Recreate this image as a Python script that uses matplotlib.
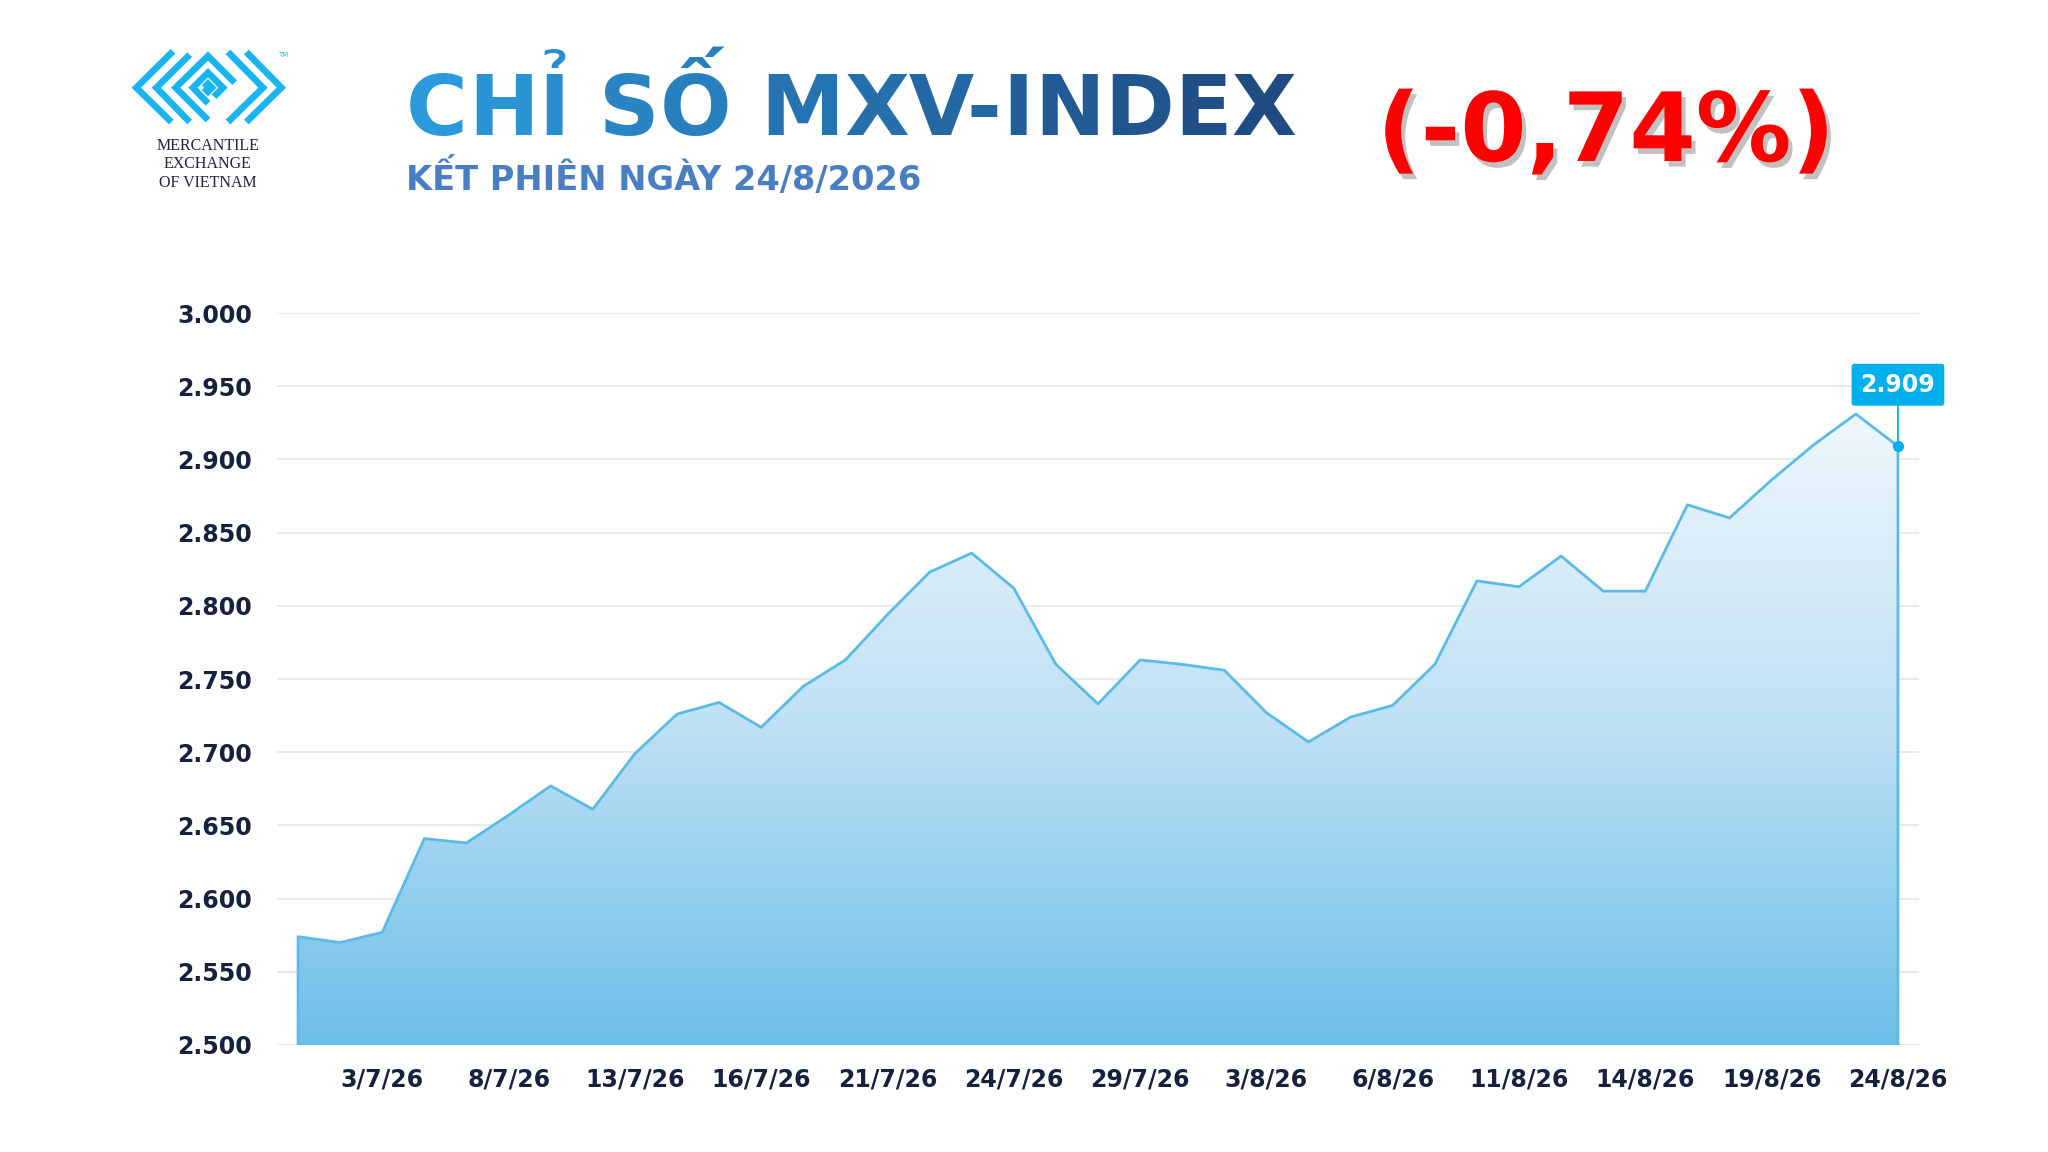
import matplotlib
matplotlib.use('Agg')
import matplotlib.pyplot as plt
import matplotlib.colors as mcolors
import matplotlib.patheffects as pe
import numpy as np

# phien giao dich 1/7/2026 -> 24/8/2026
dates = ['1/7/26', '2/7/26', '3/7/26', '6/7/26', '7/7/26', '8/7/26', '9/7/26', '10/7/26',
         '13/7/26', '14/7/26', '15/7/26', '16/7/26', '17/7/26', '20/7/26', '21/7/26',
         '22/7/26', '23/7/26', '24/7/26', '27/7/26', '28/7/26', '29/7/26', '30/7/26',
         '31/7/26', '3/8/26', '4/8/26', '5/8/26', '6/8/26', '7/8/26', '10/8/26', '11/8/26',
         '12/8/26', '13/8/26', '14/8/26', '17/8/26', '18/8/26', '19/8/26', '20/8/26',
         '21/8/26', '24/8/26']
mxv = [2574, 2570, 2577, 2641, 2638, 2657, 2677, 2661, 2699, 2726, 2734, 2717, 2745,
       2763, 2794, 2823, 2836, 2812, 2760, 2733, 2763, 2760, 2756, 2727, 2707, 2724,
       2732, 2760, 2817, 2813, 2834, 2810, 2810, 2869, 2860, 2886, 2910, 2931, 2909]
yticks = [2500, 2550, 2600, 2650, 2700, 2750, 2800, 2850, 2900, 2950, 3000]
title = 'CHỈ SỐ MXV-INDEX'
subtitle = 'KẾT PHIÊN NGÀY 24/8/2026'
change = '(-0,74%)'

W, H = 2048, 1152
navy = '#16213e'
line_c = '#5bbbe6'

fig = plt.figure(figsize=(W / 100, H / 100), dpi=100)
renderer = fig.canvas.get_renderer()


def fx(px):
    return px / W


def fy(px):
    return 1 - px / H


def fit(t, width_px):
    w = t.get_window_extent(renderer).width
    t.set_fontsize(t.get_fontsize() * width_px / w)
    return t


# ---- chart
ax = fig.add_axes([fx(277), fy(1045), fx(1919 - 277), (1045 - 313) / H])
x = np.arange(len(mxv))
ax.set_xlim(-0.5, len(mxv) - 0.5)
ax.set_ylim(2500, 3000)

poly = ax.fill_between(x, mxv, 2500, color='none', lw=0)
cmap = mcolors.LinearSegmentedColormap.from_list('fill', ['#6cbfe8', '#bde0f4', '#eff7fd'])
grad = np.linspace(0, 1, 256).reshape(-1, 1)
im = ax.imshow(grad, cmap=cmap, origin='lower', aspect='auto',
               extent=[-0.5, len(mxv) - 0.5, 2500, max(mxv)], zorder=1)
im.set_clip_path(poly.get_paths()[0], transform=ax.transData)
ax.plot(np.r_[x[0], x, x[-1]], np.r_[2500, mxv, 2500], color=line_c, lw=2, zorder=3)
ax.plot([x[0], x[-1]], [2500, 2500], color=line_c, lw=2, zorder=3)

ax.set_yticks(yticks)
ax.set_yticklabels([f'{v:,}'.replace(',', '.') for v in yticks])
ax.set_xticks(x[2::3])
ax.set_xticklabels(dates[2::3])
ax.tick_params(length=0, labelsize=17, labelcolor=navy)
ax.tick_params(axis='y', pad=18)
ax.tick_params(axis='x', pad=16)
for lab in ax.get_xticklabels() + ax.get_yticklabels():
    lab.set_fontweight('bold')
ax.yaxis.grid(True, color='#e6e6e6', lw=1.2, zorder=0)
ax.set_axisbelow(True)
for s in ax.spines.values():
    s.set_visible(False)

last = mxv[-1]
ax.annotate(f'{last:,}'.replace(',', '.'), xy=(x[-1], last), xytext=(x[-1], 2951),
            ha='center', va='center', color='white', fontsize=17, fontweight='bold',
            bbox=dict(boxstyle='round,pad=0.38,rounding_size=0.12', fc='#00b0ec', ec='none'),
            arrowprops=dict(arrowstyle='-', color='#00b0ec', lw=1.3, shrinkA=0, shrinkB=0),
            zorder=5)
ax.plot(x[-1], last, 'o', color='#00aeef', ms=7, zorder=6)

# ---- title, mau chuyen dan tu trai sang phai
tkw = dict(fontweight='bold', family='DejaVu Sans', va='baseline')
probe = fit(fig.text(0, 0, title, fontsize=60, **tkw), 891)
fs = probe.get_fontsize()
probe.remove()
c0, c1 = np.array(mcolors.to_rgb('#2b99db')), np.array(mcolors.to_rgb('#1f4a82'))


def width(s):
    t = fig.text(0, 0, s, fontsize=fs, **tkw)
    w = t.get_window_extent(renderer).width
    t.remove()
    return w


x0 = 406
chunks = []  # [start index, text, left px, right px]
for i, ch in enumerate(title):
    if ch == ' ':
        continue
    left = x0 + width(title[:i + 1]) - width(ch)
    right = x0 + width(title[:i + 1])
    # chu nao de len chu truoc thi gop chung mot text
    if chunks and chunks[-1][0] + len(chunks[-1][1]) == i and left < chunks[-1][3] - 1:
        chunks[-1][1] += ch
        chunks[-1][3] = right
    else:
        chunks.append([i, ch, left, right])
for i, s, left, right in chunks:
    frac = (i + len(s) / 2 - 0.5) / (len(title) - 1)
    fig.text(fx(left), fy(135), s, fontsize=fs, color=c0 + (c1 - c0) * frac, **tkw)

fit(fig.text(fx(406), fy(190), subtitle, fontsize=22, fontweight='bold',
             family='DejaVu Sans', color='#4a7ec2', va='baseline'), 512)

red = fig.text(fx(1377), fy(161), change, fontsize=80, fontweight='bold', family='DejaVu Sans',
               color='#ff0000', va='baseline')
fit(red, 458)
red.set_path_effects([pe.SimplePatchShadow(offset=(3, -4), shadow_rgbFace='#666666', alpha=0.4),
                      pe.Normal()])

# ---- logo MXV
lg = fig.add_axes([fx(128), fy(126), fx(160), 80 / H])
lg.set_xlim(0, 480)
lg.set_ylim(240, 0)
lg.axis('off')
cyan = '#1ab4ee'
strokes = [
    [(130, 228), (25, 125), (135, 16)],
    [(185, 228), (85, 125), (185, 26)],
    [(240, 222), (143, 125), (240, 30), (320, 110)],
    [(240, 172), (195, 125), (240, 80), (285, 125), (258, 152)],
    [(228, 125), (240, 113), (252, 125), (240, 137), (228, 125)],
    [(300, 18), (405, 125), (300, 228)],
    [(355, 18), (460, 125), (355, 228)],
]
for s in strokes:
    xs, ys = zip(*s)
    lg.plot(xs, ys, color=cyan, lw=4.8, solid_capstyle='butt', solid_joinstyle='miter')
fig.text(fx(283), fy(55), 'TM', fontsize=5, color=cyan, ha='center', va='center')
for txt, base in [('MERCANTILE', 150), ('EXCHANGE', 168), ('OF VIETNAM', 187)]:
    fig.text(fx(208), fy(base), txt, fontsize=11.5, family='Liberation Serif',
             color='#1c2746', ha='center', va='baseline')

fig.savefig('out.png', dpi=100)
